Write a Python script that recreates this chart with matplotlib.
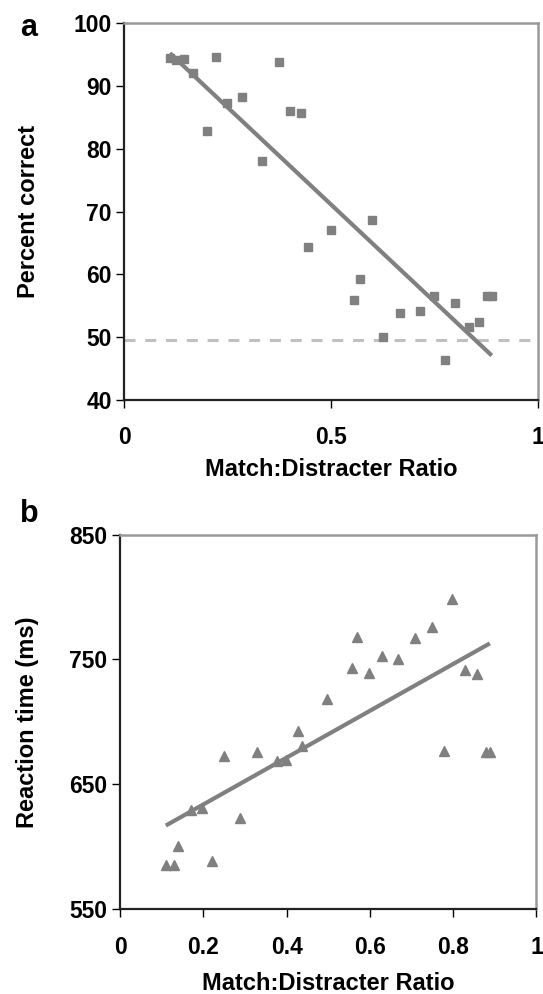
"""Percent correct and reaction time against match:distracter ratio (panels a and b)."""

import matplotlib

matplotlib.use("Agg")
import matplotlib.pyplot as plt
import numpy as np

plt.rcParams["font.family"] = ["Liberation Sans", "DejaVu Sans"]
plt.rcParams["font.weight"] = "bold"

# panel a: percent correct
RATIO_A = [0.110, 0.125, 0.143, 0.167, 0.199, 0.222, 0.249, 0.285, 0.333, 0.374,
           0.400, 0.428, 0.444, 0.500, 0.555, 0.570, 0.599, 0.625, 0.665, 0.714,
           0.748, 0.776, 0.800, 0.833, 0.857, 0.876, 0.888]
PERCENT_CORRECT = [94.5, 94.1, 94.3, 92.1, 82.9, 94.6, 87.3, 88.2, 78.0, 93.8,
                   86.1, 85.7, 64.3, 67.1, 55.9, 59.3, 68.6, 50.1, 53.8, 54.2,
                   56.6, 46.3, 55.5, 51.6, 52.5, 56.6, 56.6]
CHANCE_LEVEL = 49.5

# panel b: reaction time
RATIO_B = [0.110, 0.130, 0.139, 0.170, 0.198, 0.220, 0.249, 0.288, 0.328, 0.378,
           0.398, 0.428, 0.438, 0.498, 0.558, 0.568, 0.598, 0.629, 0.667, 0.708,
           0.748, 0.778, 0.798, 0.828, 0.858, 0.878, 0.888]
REACTION_TIME = [585.5, 585.5, 601, 629.6, 631.4, 589, 673.1, 622.9, 676.3, 668.8,
                 669.6, 692.9, 680.8, 718.5, 742.8, 768.4, 739, 752.7, 750.6, 767.4,
                 776.2, 677, 798.4, 741.7, 738.3, 676.3, 676.3]

GREY = "#808080"
FRAME_GREY = "#999999"
TICK_SIZE = 16.5
LABEL_SIZE = 17


def style_axes(ax):
    """Black left/bottom axis, grey top/right frame like the original figure."""

    for side in ["left", "bottom"]:
        ax.spines[side].set_color("#222222")
        ax.spines[side].set_linewidth(1.6)
    for side in ["top", "right"]:
        ax.spines[side].set_color(FRAME_GREY)
        ax.spines[side].set_linewidth(1.8)
    ax.tick_params(axis="y", direction="out", length=6, width=1, pad=3, labelsize=TICK_SIZE)
    ax.tick_params(axis="x", direction="out", length=6, width=1, pad=13, labelsize=TICK_SIZE)
    for label in ax.get_xticklabels() + ax.get_yticklabels():
        label.set_fontweight("bold")


def add_trend(ax, x_values, y_values):
    """Least-squares trend line across the data range."""

    slope, intercept = np.polyfit(x_values, y_values, 1)
    xs = np.array([min(x_values), max(x_values)])
    ax.plot(xs, slope * xs + intercept, color=GREY, linewidth=3, solid_capstyle="butt", zorder=3)


fig = plt.figure(figsize=(5.43, 9.94), dpi=100)

# panel a
ax_a = fig.add_axes([0.229, 0.5976, 0.762, 0.379])
ax_a.axhline(CHANCE_LEVEL, color="#c0c0c0", linewidth=2.2, dashes=(3.6, 3.2), zorder=1)
ax_a.plot(RATIO_A, PERCENT_CORRECT, linestyle="none", marker="s", markersize=6,
          color=GREY, zorder=2)
add_trend(ax_a, RATIO_A, PERCENT_CORRECT)
ax_a.set_xlim(0, 1)
ax_a.set_ylim(40, 100)
ax_a.set_xticks([0, 0.5, 1])
ax_a.set_xticklabels(["0", "0.5", "1"])
ax_a.set_yticks(range(40, 101, 10))
style_axes(ax_a)
ax_a.set_xlabel("Match:Distracter Ratio", fontsize=LABEL_SIZE, fontweight="bold", va="top")
ax_a.xaxis.set_label_coords(0.5, -0.155)
ax_a.set_ylabel("Percent correct", fontsize=LABEL_SIZE, fontweight="bold")
ax_a.yaxis.set_label_coords(-0.205, 0.5)

# panel b
ax_b = fig.add_axes([0.221, 0.0852, 0.767, 0.377])
ax_b.plot(RATIO_B, REACTION_TIME, linestyle="none", marker="^", markersize=7,
          color=GREY, zorder=2)
add_trend(ax_b, RATIO_B, REACTION_TIME)
ax_b.set_xlim(0, 1)
ax_b.set_ylim(550, 850)
ax_b.set_xticks([0, 0.2, 0.4, 0.6, 0.8, 1])
ax_b.set_xticklabels(["0", "0.2", "0.4", "0.6", "0.8", "1"])
ax_b.set_yticks([550, 650, 750, 850])
style_axes(ax_b)
ax_b.set_xlabel("Match:Distracter Ratio", fontsize=LABEL_SIZE, fontweight="bold", va="top")
ax_b.xaxis.set_label_coords(0.5, -0.168)
ax_b.set_ylabel("Reaction time (ms)", fontsize=LABEL_SIZE, fontweight="bold")
ax_b.yaxis.set_label_coords(-0.195, 0.5)

# panel letters
fig.text(20 / 543, 1 - 28 / 994, "a", fontsize=22, fontweight="bold", ha="left", va="center")
fig.text(20 / 543, 1 - 514 / 994, "b", fontsize=22, fontweight="bold", ha="left", va="center")

fig.savefig("out.png", dpi=100)
